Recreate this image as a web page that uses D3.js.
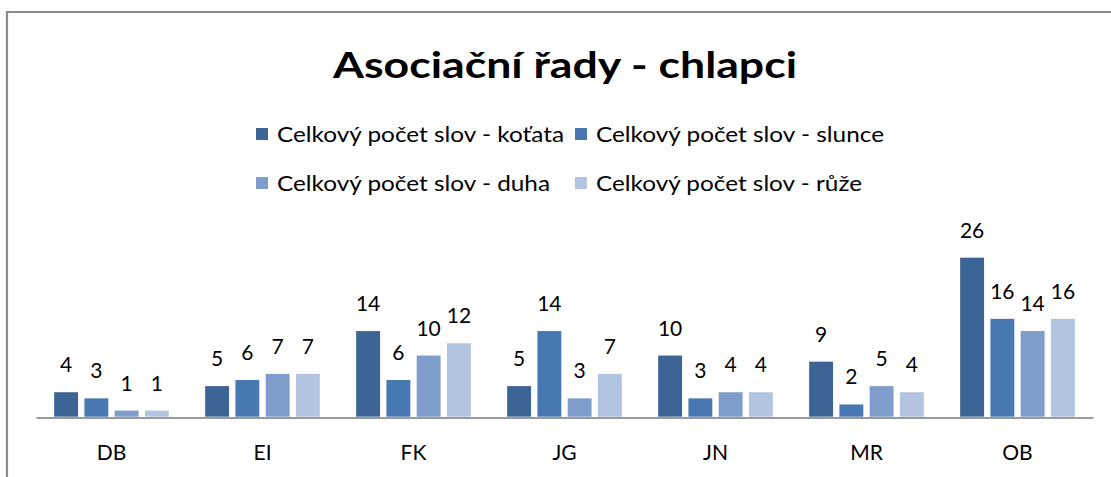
<!DOCTYPE html>
<html>
<head>
<meta charset="utf-8">
<script src="https://cdn.jsdelivr.net/npm/d3@7"></script>
<style>
  html, body { margin: 0; padding: 0; background: #fff; }
  svg { display: block; }
  text { font-family: Lato, "Open Sans", sans-serif; fill: #000; }
</style>
</head>
<body>
<svg id="chart" width="1111" height="477"></svg>
<script>
// Chart data
const categories = ["DB", "EI", "FK", "JG", "JN", "MR", "OB"];
const seriesNames = [
  "Celkový počet slov - koťata",
  "Celkový počet slov - slunce",
  "Celkový počet slov - duha",
  "Celkový počet slov - růže"
];
const kotata = [4, 5, 14, 5, 10, 9, 26];
const slunce = [3, 6, 6, 14, 3, 2, 16];
const duha   = [1, 7, 10, 3, 4, 5, 14];
const ruze   = [1, 7, 12, 7, 4, 4, 16];
const seriesValues = [kotata, slunce, duha, ruze];
const colors = ["#3c6494", "#4878b2", "#7e9dca", "#b3c4e0"];

const svg = d3.select("#chart");

// Frame around the chart area
svg.append("path")
  .attr("d", "M7,477 L7,12 L1111,12")
  .attr("fill", "none")
  .attr("stroke", "#8a8a8a")
  .attr("stroke-width", 2.2);

// Title
svg.append("text")
  .attr("x", 565).attr("y", 78)
  .attr("text-anchor", "middle")
  .attr("font-size", 37)
  .attr("font-weight", "bold")
  .attr("textLength", 464)
  .attr("lengthAdjust", "spacingAndGlyphs")
  .text("Asociační řady - chlapci");

// Legend (two rows of two entries)
const legendPos = [
  { x: 255, y: 142, w: 287 },
  { x: 574, y: 142, w: 288 },
  { x: 255, y: 191, w: 273 },
  { x: 574, y: 191, w: 266 }
];
const legend = svg.append("g");
seriesNames.forEach((name, i) => {
  const p = legendPos[i];
  legend.append("rect")
    .attr("x", p.x + 1).attr("y", p.y - 14)
    .attr("width", 12).attr("height", 12)
    .attr("fill", colors[i]);
  legend.append("text")
    .attr("x", p.x + 22).attr("y", p.y)
    .attr("font-size", 21)
    .attr("textLength", p.w)
    .attr("lengthAdjust", "spacingAndGlyphs")
    .text(name);
});

// Scales
const x0 = d3.scaleBand().domain(categories).range([36, 1093]).padding(0);
const x1 = d3.scaleBand().domain(d3.range(seriesNames.length))
  .range([0, x0.bandwidth()])
  .paddingInner(0.21).paddingOuter(0.6);
const y = d3.scaleLinear().domain([0, 30]).range([416.7, 233.2]);

// Bars and value labels
const groups = svg.append("g").selectAll("g")
  .data(categories)
  .join("g")
  .attr("transform", d => `translate(${x0(d)},0)`);

groups.selectAll("rect")
  .data((d, ci) => seriesValues.map((vals, si) => ({ si, v: vals[ci] })))
  .join("rect")
  .attr("x", d => x1(d.si))
  .attr("y", d => y(d.v))
  .attr("width", x1.bandwidth())
  .attr("height", d => y(0) - y(d.v))
  .attr("fill", d => colors[d.si]);

groups.selectAll("text.val")
  .data((d, ci) => seriesValues.map((vals, si) => ({ si, v: vals[ci] })))
  .join("text")
  .attr("class", "val")
  .attr("x", d => x1(d.si) + x1.bandwidth() / 2)
  .attr("y", d => y(d.v) - 20)
  .attr("text-anchor", "middle")
  .attr("font-size", 21)
  .text(d => d.v);

// Category axis
const xAxis = svg.append("g")
  .attr("transform", `translate(0,${y(0) + 0.8})`)
  .call(d3.axisBottom(x0).tickSize(0).tickPadding(28));
xAxis.select(".domain").attr("stroke", "#9a9a9a").attr("stroke-width", 2);
xAxis.selectAll("text")
  .attr("font-size", 21)
  .attr("font-family", "Lato, 'Open Sans', sans-serif")
  .attr("fill", "#000");
</script>
</body>
</html>
